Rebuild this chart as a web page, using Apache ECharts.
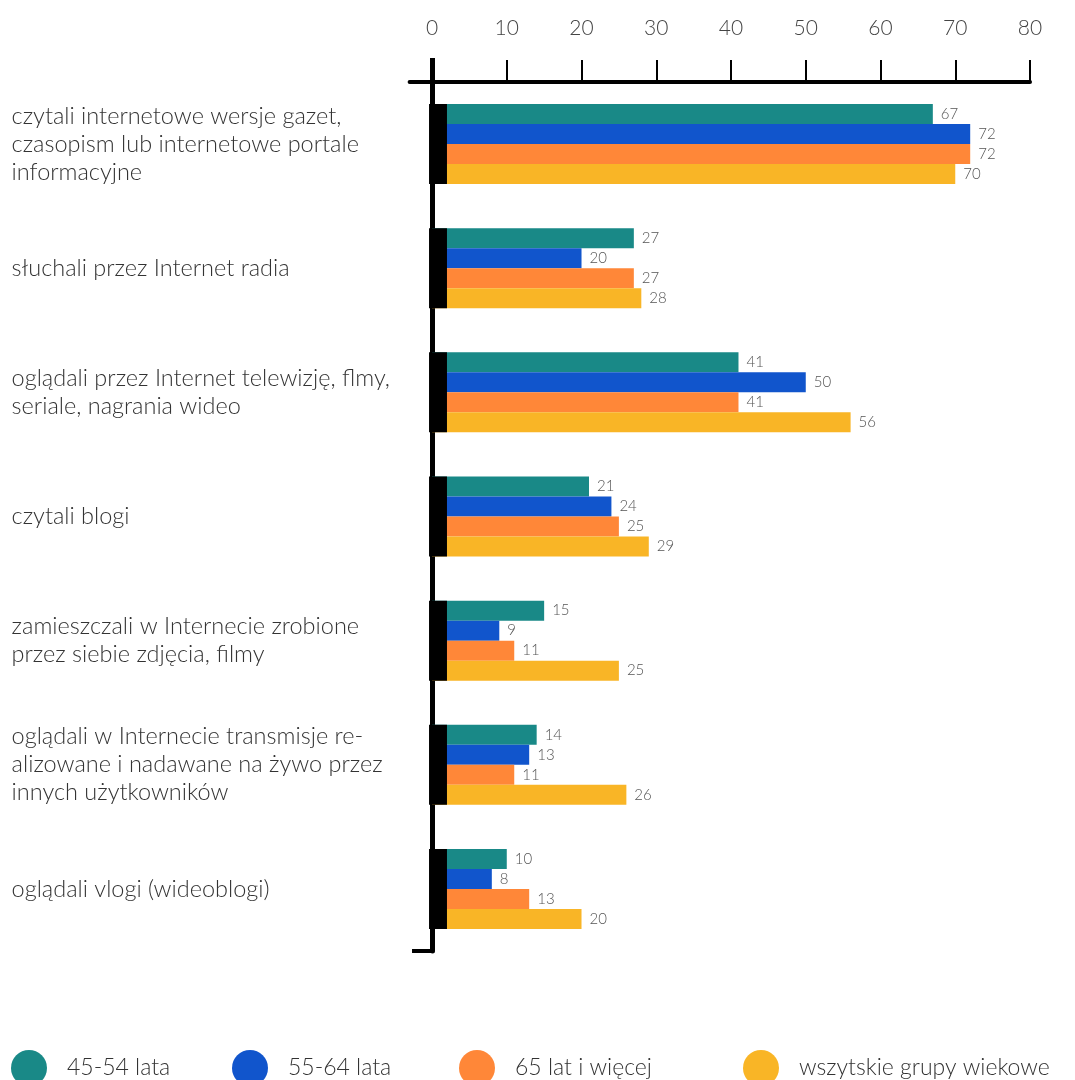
<!DOCTYPE html>
<html>
<head>
<meta charset="utf-8">
<script src="https://cdn.jsdelivr.net/npm/echarts@6/dist/echarts.min.js"></script>
<style>
  html, body { margin: 0; padding: 0; background: #fff; }
  #chart { width: 1075px; height: 1080px; }
</style>
</head>
<body>
<div id="chart"></div>
<script>
// Activities (one line break where the label wraps)
const categories = [
  'czytali internetowe wersje gazet,\nczasopism lub internetowe portale\ninformacyjne',
  'słuchali przez Internet radia',
  'oglądali przez Internet telewizję, flmy,\nseriale, nagrania wideo',
  'czytali blogi',
  'zamieszczali w Internecie zrobione\nprzez siebie zdjęcia, filmy',
  'oglądali w Internecie transmisje re-\nalizowane i nadawane na żywo przez\ninnych użytkowników',
  'oglądali vlogi (wideoblogi)'
];

const seriesNames = ['45-54 lata', '55-64 lata', '65 lat i więcej', 'wszytskie grupy wiekowe'];

const age45to54 = [67, 27, 41, 21, 15, 14, 10];
const age55to64 = [72, 20, 50, 24, 9, 13, 8];
const age65plus = [72, 27, 41, 25, 11, 11, 13];
const allAges   = [70, 28, 56, 29, 25, 26, 20];

const xTicks = [0, 10, 20, 30, 40, 50, 60, 70, 80];

const colors = ['#198987', '#1155cc', '#ff8738', '#f9b526'];

const FONT = 'Lato, "Noto Sans", sans-serif';
const BAR_W = 20;
const AXIS_MIN = -3;
const AXIS_MAX = 80;
// black marker spanning the start of each bar group (axis units)
const MARK_FROM = -0.4;
const MARK_TO = 2;

const chart = echarts.init(document.getElementById('chart'), null, { renderer: 'canvas' });

function barSeries(name, values, color) {
  return {
    name: name,
    type: 'bar',
    data: values,
    barWidth: BAR_W,
    barGap: '0%',
    itemStyle: { color: color },
    label: {
      show: true,
      position: 'right',
      distance: 8,
      color: '#555',
      fontFamily: FONT,
      fontSize: 15,
      fontWeight: 300
    },
    z: 2
  };
}

const legendLeft = [11, 232, 459, 743];

const option = {
  animation: false,
  backgroundColor: '#fff',
  textStyle: { fontFamily: FONT },
  grid: { left: 409.6, right: 45, top: 82, bottom: 129, containLabel: false, outerBoundsMode: 'none' },
  legend: seriesNames.map((n, i) => ({
    data: [n],
    left: legendLeft[i],
    top: 1050,
    padding: 0,
    orient: 'horizontal',
    icon: 'circle',
    itemWidth: 36,
    itemHeight: 36,
    selectedMode: false,
    textStyle: { color: '#333', fontSize: 23, fontFamily: FONT, fontWeight: 300, padding: [0, 0, 0, 15] }
  })),
  xAxis: [
    {
      type: 'value',
      position: 'top',
      min: AXIS_MIN,
      max: AXIS_MAX,
      axisLine: { show: true, onZero: false, lineStyle: { color: '#000', width: 4 } },
      axisTick: { show: true, customValues: xTicks, length: 22, lineStyle: { color: '#000', width: 2 } },
      axisLabel: { customValues: xTicks, margin: 43, color: '#444', fontSize: 21, fontFamily: FONT, fontWeight: 300 },
      splitLine: { show: false }
    },
    {
      type: 'value',
      position: 'top',
      min: AXIS_MIN,
      max: AXIS_MAX,
      axisLine: { show: false },
      axisTick: { show: true, customValues: [0], length: 24, lineStyle: { color: '#000', width: 5 } },
      axisLabel: { show: false },
      splitLine: { show: false }
    }
  ],
  yAxis: {
    type: 'category',
    data: categories,
    inverse: true,
    axisLine: { show: true, onZero: true, onZeroAxisIndex: 0, lineStyle: { color: '#000', width: 5 } },
    axisTick: {
      show: true,
      interval: (idx) => idx === categories.length - 1,
      length: 20,
      lineStyle: { color: '#000', width: 4 }
    },
    axisLabel: {
      margin: 398,
      align: 'left',
      color: '#333',
      fontSize: 23.5,
      lineHeight: 28,
      fontFamily: FONT,
      fontWeight: 300
    },
    splitLine: { show: false }
  },
  series: [
    barSeries(seriesNames[0], age45to54, colors[0]),
    barSeries(seriesNames[1], age55to64, colors[1]),
    barSeries(seriesNames[2], age65plus, colors[2]),
    barSeries(seriesNames[3], allAges, colors[3]),
    {
      name: 'marker',
      type: 'custom',
      data: categories.map((c, i) => [MARK_TO, i]),
      encode: { x: 0, y: 1 },
      z: 5,
      silent: true,
      renderItem: function (params, api) {
        const idx = api.value(1);
        const a = api.coord([MARK_FROM, idx]);
        const b = api.coord([api.value(0), idx]);
        const h = BAR_W * 4;
        return {
          type: 'rect',
          shape: { x: a[0], y: a[1] - h / 2, width: b[0] - a[0], height: h },
          style: { fill: '#000' }
        };
      }
    }
  ]
};

chart.setOption(option);
</script>
</body>
</html>
